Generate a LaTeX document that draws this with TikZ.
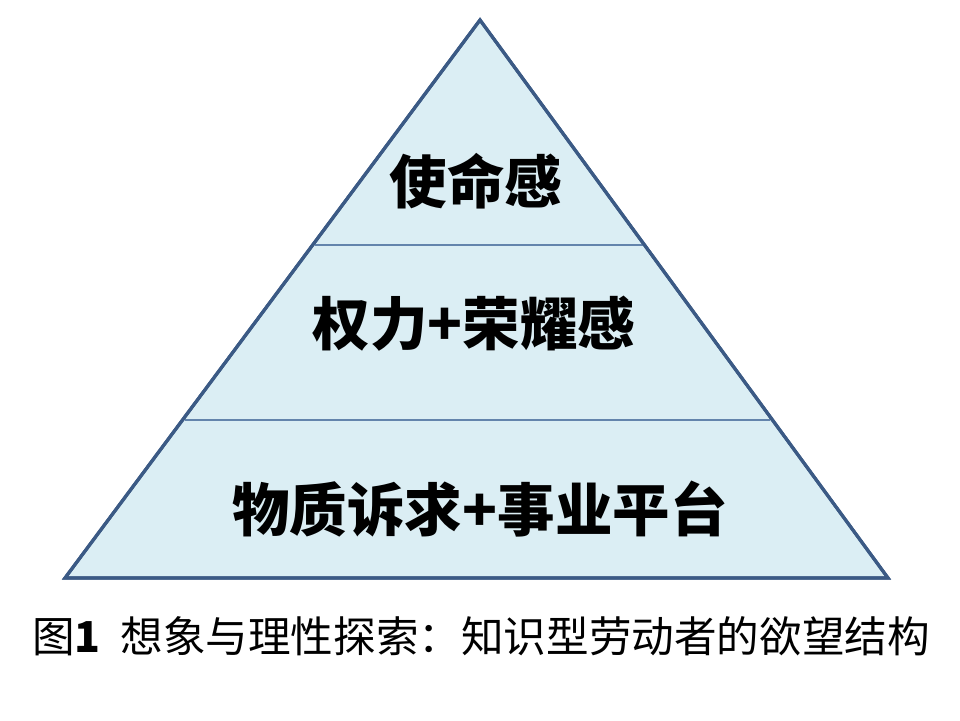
\documentclass[tikz,border=0pt]{standalone}
\usepackage{fontspec}
\setmainfont{Noto Sans CJK SC}
\usetikzlibrary{calc}
\definecolor{pyrfill}{HTML}{DBEEF4}
\definecolor{pyrline}{HTML}{3B5A85}
\definecolor{divline}{HTML}{6384AC}
\tikzset{
  level/.style={font=\fontsize{57.5}{62}\selectfont\bfseries, text=black, inner sep=0pt},
  caption/.style={font=\fontsize{42.6}{48}\selectfont, text=black, inner sep=0pt},
  divider/.style={draw=divline, line width=1.6pt},
  outline/.style={draw=pyrline, line width=3.2pt, line join=miter, fill=pyrfill}
}
\begin{document}
\begin{tikzpicture}[x=1pt,y=-1pt]
\useasboundingbox (0,0) rectangle (960,720);
\fill[white] (0,0) rectangle (960,720);
\coordinate (apex) at (480,20);
\coordinate (bl) at (65,578);
\coordinate (br) at (888,578);
\draw[outline] (apex) -- (br) -- (bl) -- cycle;
\coordinate (d1l) at ($(apex)!0.4032!(bl)$);
\coordinate (d1r) at ($(apex)!0.4032!(br)$);
\coordinate (d2l) at ($(apex)!0.7168!(bl)$);
\coordinate (d2r) at ($(apex)!0.7168!(br)$);
\draw[divider] ([xshift=2pt]d1l) -- ([xshift=-2pt]d1r);
\draw[divider] ([xshift=2pt]d2l) -- ([xshift=-2pt]d2r);
\draw[outline, fill=none] (apex) -- (br) -- (bl) -- cycle;
\node[level] (top) at (476,181) {使命感};
\node[level] (mid) at (474,324) {权力+荣耀感};
\node[level] (bot) at (480,509) {物质诉求+事业平台};
\node[caption] (cap) at (481,636) {图{\bfseries 1}\hspace{20pt}想象与理性探索：知识型劳动者的欲望结构};
\end{tikzpicture}
\end{document}
